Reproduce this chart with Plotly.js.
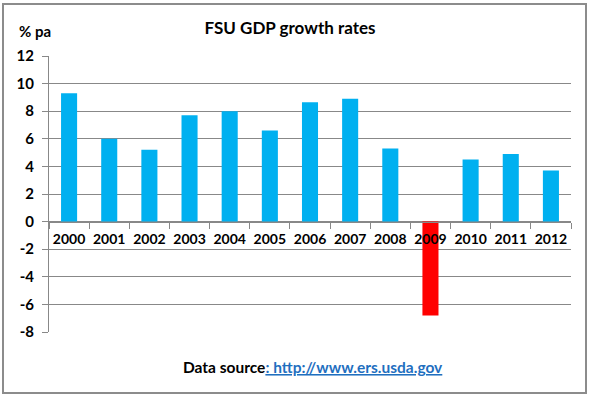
<!DOCTYPE html>
<html>
<head>
<meta charset="utf-8">
<script src="https://cdn.plot.ly/plotly-3.0.1.min.js"></script>
<style>
html,body{margin:0;padding:0;background:#fff;}
#chart{width:591px;height:399px;}
</style>
</head>
<body>
<div id="chart"></div>
<script>
const years = ['2000','2001','2002','2003','2004','2005','2006','2007','2008','2009','2010','2011','2012'];
const growth = [9.3, 6.0, 5.2, 7.7, 8.0, 6.6, 8.65, 8.9, 5.3, -6.8, 4.5, 4.9, 3.7];
const yTicks = [-8, -6, -4, -2, 0, 2, 4, 6, 8, 10, 12];

const FONT = 'Lato, "Open Sans", sans-serif';
const colors = growth.map(v => v < 0 ? '#ff0000' : '#00b0f0');

const trace = {
  type: 'bar',
  x: years,
  y: growth,
  marker: {color: colors, line: {width: 0}},
  hoverinfo: 'x+y'
};

const W = 591, H = 399, L = 49, R = 20, T = 56, B = 67;
const pw = W - L - R, ph = H - T - B;
const fx = px => (px - L) / pw;
const fy = py => (H - B - py) / ph;

const layout = {
  width: W, height: H,
  margin: {l: L, r: R, t: T, b: B, pad: 0},
  paper_bgcolor: '#ffffff',
  plot_bgcolor: '#ffffff',
  showlegend: false,
  bargap: 0.6,
  font: {family: FONT, color: '#000000'},
  title: {
    text: '<b>FSU GDP growth rates</b>',
    font: {family: FONT, size: 17, color: '#000'},
    xref: 'container', x: 290 / W, xanchor: 'center',
    yref: 'container', y: 1 - 28 / H, yanchor: 'middle'
  },
  xaxis: {
    type: 'category',
    anchor: 'free',
    position: 0.4,
    showline: true,
    linecolor: '#888888',
    linewidth: 1,
    ticks: 'outside',
    tickson: 'boundaries',
    ticklen: 6,
    tickcolor: '#888888',
    tickangle: 0,
    showgrid: false,
    tickfont: {family: FONT, size: 14, weight: 'bold', color: '#000'},
    ticklabelstandoff: 5,
    fixedrange: true
  },
  yaxis: {
    range: [-8, 12],
    tickvals: yTicks,
    ticktext: yTicks.map(String),
    showline: true,
    linecolor: '#888888',
    linewidth: 1,
    ticks: 'outside',
    ticklen: 6,
    tickcolor: '#888888',
    showgrid: true,
    gridcolor: '#888888',
    gridwidth: 1,
    zeroline: false,
    tickfont: {family: FONT, size: 15, weight: 'bold', color: '#000'},
    ticklabelstandoff: 5,
    fixedrange: true
  },
  shapes: [{
    type: 'rect', xref: 'paper', yref: 'paper',
    x0: fx(3), x1: fx(586), y0: fy(393), y1: fy(4),
    line: {color: '#8c8c8c', width: 2},
    fillcolor: 'rgba(0,0,0,0)',
    layer: 'below'
  }],
  annotations: [
    {
      text: '<b>% pa</b>',
      xref: 'paper', yref: 'paper',
      x: fx(17), y: fy(31), xanchor: 'left', yanchor: 'middle',
      showarrow: false,
      font: {family: FONT, size: 15, color: '#000'}
    },
    {
      text: '<b>Data source</b><span style="color:#1f6fbf;text-decoration:underline"><b>: http://www.ers.usda.gov</b></span>',
      xref: 'paper', yref: 'paper',
      x: fx(313), y: fy(367), xanchor: 'center', yanchor: 'middle',
      showarrow: false,
      font: {family: FONT, size: 15.5, color: '#000'}
    }
  ]
};

Plotly.newPlot('chart', [trace], layout, {displayModeBar: false, staticPlot: true});
</script>
</body>
</html>
